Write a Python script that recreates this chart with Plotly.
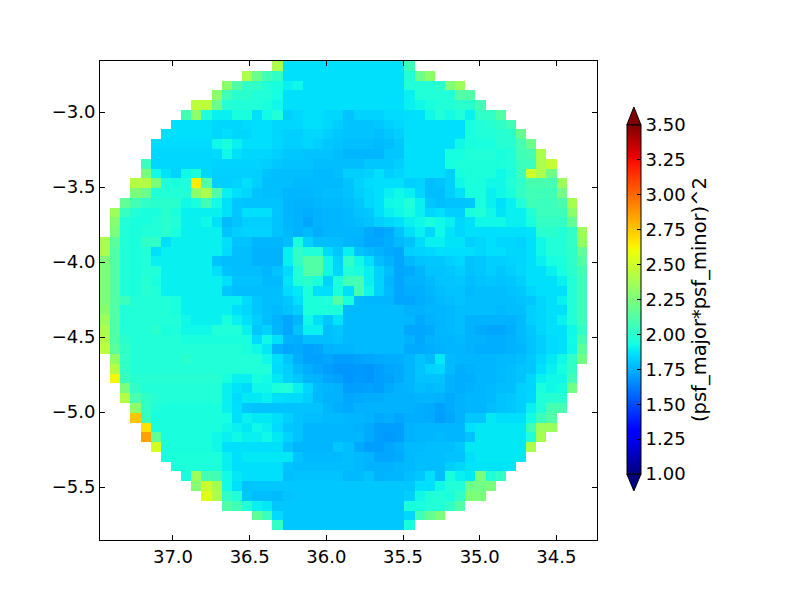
import plotly.graph_objects as go

# psf size per cell, in hundredths
# first_col = column where the row's data starts, everything else is blank
first_col = [17, 14, 12, 11, 9, 8, 7, 6, 5, 5, 4, 4, 3, 3, 2, 1, 1, 1,
             0, 0, 0, 0, 0, 0, 0, 0, 0, 0, 0, 0,
             1, 1, 1, 2, 2, 3, 3, 4, 4, 5, 6, 7, 8, 9, 10, 12, 15, 17]
rows = [
    [240, 186, 186, 186, 186, 186, 186, 186, 186, 186, 186, 186, 186, 207],
    [240, 220, 207, 202, 186, 186, 186, 186, 186, 186, 186, 186, 186, 186, 186, 186, 197, 220, 230],
    [230, 212, 202, 202, 197, 195, 190, 192, 186, 186, 186, 186, 186, 186, 186, 186, 186, 186, 197, 197, 197, 200, 227, 235],
    [230, 207, 200, 200, 197, 197, 194, 186, 186, 186, 186, 186, 186, 186, 186, 186, 186, 186, 186, 190, 197, 197, 197, 197, 212, 212],
    [245, 245, 220, 199, 197, 197, 197, 195, 192, 186, 186, 186, 186, 186, 186, 186, 186, 186, 186, 186, 186, 190, 192, 195, 197, 197, 200, 200, 207],
    [207, 230, 197, 190, 190, 195, 195, 186, 193, 197, 182, 184, 186, 186, 184, 184, 179, 183, 183, 183, 185, 185, 186, 186, 192, 197, 193, 197, 190, 202, 202, 212],
    [186, 186, 186, 186, 184, 184, 184, 185, 186, 186, 184, 184, 184, 186, 186, 184, 182, 179, 179, 179, 180, 182, 184, 186, 186, 186, 186, 186, 186, 195, 197, 199, 202, 207],
    [186, 186, 186, 186, 186, 184, 186, 184, 184, 186, 186, 184, 182, 182, 184, 184, 182, 180, 179, 179, 179, 178, 180, 182, 186, 186, 186, 186, 186, 186, 195, 197, 197, 199, 200, 218],
    [185, 185, 185, 185, 185, 185, 192, 195, 190, 186, 186, 186, 184, 182, 182, 184, 182, 180, 179, 178, 178, 178, 177, 178, 180, 186, 186, 186, 186, 186, 192, 195, 195, 195, 199, 199, 209, 220],
    [184, 184, 184, 184, 184, 184, 185, 192, 186, 184, 184, 184, 182, 180, 180, 179, 179, 179, 178, 176, 176, 176, 176, 180, 180, 186, 186, 186, 186, 194, 194, 197, 197, 197, 195, 197, 207, 209, 240],
    [205, 184, 184, 184, 184, 184, 184, 183, 183, 183, 183, 183, 182, 180, 179, 179, 179, 178, 178, 178, 178, 178, 180, 180, 180, 182, 186, 186, 186, 186, 194, 196, 196, 196, 196, 196, 197, 205, 205, 240, 247],
    [225, 193, 187, 183, 192, 195, 184, 182, 182, 182, 182, 182, 179, 178, 178, 178, 178, 177, 177, 178, 182, 182, 183, 186, 182, 184, 186, 186, 186, 186, 182, 194, 196, 196, 196, 192, 195, 205, 250, 240, 220],
    [242, 242, 225, 197, 195, 197, 265, 212, 182, 182, 183, 186, 182, 178, 178, 178, 177, 177, 177, 177, 177, 179, 183, 185, 186, 186, 186, 182, 183, 178, 179, 182, 192, 196, 195, 192, 192, 197, 202, 209, 209, 209, 235],
    [225, 220, 197, 197, 197, 197, 230, 240, 212, 190, 186, 184, 179, 178, 178, 176, 176, 176, 177, 178, 178, 179, 182, 184, 186, 190, 192, 190, 184, 178, 178, 182, 186, 195, 195, 190, 192, 195, 203, 207, 207, 207, 222],
    [217, 207, 202, 200, 200, 200, 192, 195, 207, 193, 186, 180, 179, 179, 179, 179, 176, 175, 175, 176, 177, 177, 178, 180, 184, 186, 192, 193, 197, 190, 180, 178, 179, 179, 180, 195, 190, 186, 190, 197, 207, 205, 205, 209, 238],
    [235, 204, 197, 195, 195, 200, 195, 190, 190, 190, 190, 186, 180, 186, 186, 186, 179, 176, 175, 174, 175, 176, 176, 177, 179, 180, 186, 190, 192, 195, 190, 184, 186, 182, 182, 195, 197, 192, 187, 190, 190, 197, 205, 205, 205, 230],
    [228, 197, 195, 195, 197, 200, 197, 190, 190, 192, 186, 177, 179, 182, 182, 182, 179, 176, 175, 172, 175, 176, 176, 177, 178, 179, 182, 184, 186, 190, 192, 195, 192, 190, 184, 186, 192, 192, 192, 190, 190, 195, 203, 203, 203, 217],
    [225, 197, 195, 197, 197, 200, 195, 190, 190, 190, 190, 179, 182, 183, 183, 183, 179, 177, 175, 177, 174, 176, 176, 176, 176, 173, 171, 173, 179, 186, 190, 184, 192, 187, 184, 186, 186, 186, 186, 186, 186, 187, 200, 200, 197, 202, 235],
    [240, 215, 197, 195, 202, 202, 186, 190, 190, 190, 190, 190, 186, 179, 179, 176, 176, 176, 178, 195, 183, 178, 178, 178, 176, 175, 172, 172, 174, 177, 179, 185, 190, 190, 187, 187, 182, 184, 186, 184, 184, 183, 186, 192, 197, 197, 202, 232],
    [240, 212, 197, 195, 197, 186, 190, 190, 190, 190, 190, 190, 185, 178, 178, 175, 175, 175, 190, 202, 197, 197, 185, 180, 190, 179, 177, 175, 173, 172, 182, 183, 184, 186, 186, 186, 186, 184, 186, 186, 184, 184, 186, 192, 197, 197, 201, 217],
    [225, 212, 197, 195, 197, 190, 190, 190, 190, 190, 190, 179, 178, 178, 178, 175, 175, 175, 190, 202, 212, 212, 192, 183, 202, 192, 186, 178, 175, 172, 177, 179, 180, 180, 182, 184, 179, 180, 182, 182, 183, 184, 186, 190, 194, 196, 201, 212],
    [225, 212, 197, 195, 197, 197, 190, 190, 190, 190, 190, 186, 179, 178, 178, 178, 176, 179, 185, 197, 212, 212, 192, 184, 197, 195, 190, 183, 178, 172, 173, 176, 179, 179, 180, 182, 179, 180, 182, 180, 182, 184, 186, 186, 190, 194, 200, 207],
    [225, 212, 197, 195, 199, 195, 190, 190, 190, 190, 190, 190, 186, 179, 179, 179, 177, 177, 187, 197, 200, 196, 183, 196, 207, 209, 190, 183, 176, 172, 175, 175, 177, 179, 179, 180, 178, 179, 180, 179, 180, 182, 186, 186, 186, 190, 197, 205],
    [225, 212, 197, 195, 199, 197, 190, 190, 190, 190, 190, 190, 180, 178, 178, 178, 178, 178, 185, 188, 196, 186, 186, 195, 186, 209, 192, 183, 177, 172, 174, 174, 176, 178, 179, 179, 177, 178, 178, 178, 179, 180, 184, 186, 186, 186, 197, 205],
    [225, 212, 205, 197, 197, 197, 197, 195, 190, 190, 190, 190, 190, 190, 185, 180, 178, 178, 180, 186, 196, 196, 197, 212, 195, 177, 176, 176, 176, 172, 172, 174, 175, 177, 178, 179, 178, 178, 178, 178, 178, 179, 180, 184, 186, 190, 197, 205],
    [228, 212, 197, 197, 197, 197, 197, 195, 190, 190, 190, 190, 190, 186, 184, 180, 178, 177, 179, 182, 196, 196, 196, 196, 177, 177, 177, 177, 177, 177, 175, 175, 176, 176, 177, 178, 178, 178, 178, 177, 178, 178, 182, 184, 186, 186, 197, 205],
    [235, 212, 197, 197, 197, 197, 197, 197, 192, 190, 190, 190, 195, 190, 186, 182, 178, 175, 172, 176, 192, 186, 180, 187, 177, 177, 177, 177, 177, 177, 176, 173, 175, 176, 177, 178, 175, 175, 175, 175, 175, 177, 182, 184, 186, 190, 197, 205],
    [240, 212, 197, 197, 197, 200, 195, 196, 192, 192, 192, 197, 197, 197, 190, 180, 183, 176, 172, 179, 190, 190, 178, 180, 177, 177, 177, 177, 177, 177, 172, 172, 173, 176, 177, 178, 175, 173, 172, 172, 174, 177, 180, 184, 186, 186, 192, 202],
    [242, 212, 200, 197, 197, 197, 197, 197, 195, 195, 195, 195, 195, 195, 195, 185, 192, 186, 175, 174, 178, 178, 178, 179, 177, 177, 177, 177, 177, 177, 175, 172, 175, 176, 176, 177, 175, 175, 174, 174, 175, 177, 179, 182, 185, 186, 193, 209],
    [245, 215, 202, 197, 197, 197, 197, 197, 197, 197, 197, 197, 197, 197, 195, 192, 188, 175, 172, 173, 171, 172, 175, 176, 176, 177, 177, 177, 177, 177, 173, 173, 174, 175, 176, 176, 175, 174, 174, 174, 175, 176, 179, 182, 185, 186, 192, 215],
    [232, 202, 197, 197, 197, 197, 197, 200, 197, 197, 197, 197, 197, 197, 197, 192, 186, 180, 174, 171, 171, 172, 170, 170, 171, 172, 173, 174, 174, 176, 179, 177, 188, 177, 176, 176, 176, 176, 177, 177, 178, 180, 184, 188, 192, 202, 222],
    [243, 202, 197, 197, 197, 197, 197, 197, 197, 197, 197, 197, 197, 197, 197, 197, 185, 182, 177, 174, 172, 170, 168, 168, 169, 168, 170, 172, 173, 176, 179, 183, 184, 177, 174, 175, 176, 176, 177, 178, 179, 180, 186, 190, 194, 203],
    [262, 204, 199, 199, 199, 199, 199, 199, 199, 199, 199, 195, 190, 190, 195, 193, 188, 183, 180, 176, 175, 172, 171, 168, 169, 168, 170, 171, 173, 176, 179, 179, 179, 175, 174, 174, 176, 176, 177, 178, 179, 184, 190, 192, 192, 207],
    [225, 202, 197, 197, 197, 197, 197, 197, 197, 197, 190, 187, 185, 192, 192, 196, 197, 190, 184, 177, 176, 175, 170, 170, 171, 170, 173, 175, 176, 178, 177, 178, 175, 174, 175, 176, 177, 178, 178, 182, 183, 195, 192, 194, 222],
    [242, 210, 202, 199, 197, 197, 197, 197, 197, 197, 190, 185, 188, 188, 190, 186, 185, 185, 182, 177, 175, 175, 172, 173, 174, 174, 175, 175, 175, 176, 176, 175, 173, 175, 176, 176, 177, 179, 180, 182, 184, 197, 199, 199],
    [230, 202, 197, 195, 195, 195, 195, 195, 195, 190, 186, 180, 179, 179, 179, 179, 179, 179, 179, 176, 174, 173, 175, 175, 175, 175, 175, 175, 174, 173, 171, 173, 175, 176, 176, 178, 179, 180, 182, 190, 197, 209, 209],
    [275, 204, 195, 195, 195, 195, 195, 195, 195, 194, 186, 190, 188, 188, 186, 182, 179, 178, 178, 177, 177, 176, 176, 175, 173, 174, 172, 174, 174, 173, 170, 172, 175, 180, 180, 188, 186, 186, 186, 193, 205, 212],
    [268, 195, 195, 195, 195, 195, 195, 195, 192, 190, 188, 192, 190, 185, 180, 179, 176, 176, 176, 176, 176, 175, 173, 170, 170, 170, 175, 176, 176, 176, 176, 176, 186, 188, 188, 188, 188, 188, 207, 235, 235],
    [285, 217, 195, 195, 195, 195, 195, 192, 190, 192, 190, 190, 192, 188, 183, 179, 176, 176, 176, 176, 176, 176, 173, 170, 169, 170, 175, 176, 176, 177, 176, 176, 179, 188, 188, 188, 188, 188, 197, 238],
    [252, 195, 195, 195, 195, 195, 192, 186, 186, 186, 186, 186, 186, 179, 176, 176, 176, 176, 180, 178, 173, 170, 170, 172, 174, 177, 177, 178, 178, 178, 180, 188, 188, 188, 188, 188, 188, 240],
    [196, 196, 196, 196, 196, 196, 190, 186, 188, 188, 188, 188, 188, 179, 177, 177, 177, 177, 178, 177, 176, 172, 172, 173, 177, 178, 178, 178, 179, 179, 186, 188, 188, 188, 188, 188],
    [196, 196, 196, 196, 196, 190, 186, 186, 186, 186, 186, 179, 178, 178, 178, 178, 178, 178, 177, 175, 175, 175, 176, 177, 178, 178, 178, 182, 184, 187, 187, 187, 187, 187],
    [195, 235, 209, 207, 193, 188, 186, 186, 186, 186, 178, 179, 179, 179, 179, 179, 177, 177, 179, 175, 176, 176, 178, 180, 186, 178, 195, 190, 188, 225, 197, 202],
    [228, 248, 238, 193, 186, 179, 180, 180, 180, 180, 180, 180, 180, 180, 180, 180, 180, 180, 180, 180, 180, 180, 186, 186, 192, 197, 197, 220, 222, 225],
    [255, 240, 202, 197, 180, 178, 178, 177, 179, 180, 180, 180, 180, 180, 180, 180, 180, 180, 180, 180, 182, 192, 197, 197, 195, 202, 225, 225],
    [212, 207, 197, 190, 188, 180, 180, 180, 180, 180, 180, 180, 180, 180, 180, 180, 180, 180, 195, 195, 197, 197, 202, 212],
    [215, 205, 185, 180, 180, 180, 180, 180, 180, 180, 180, 180, 180, 180, 180, 184, 207, 218, 225],
    [202, 180, 180, 180, 180, 180, 180, 180, 180, 180, 180, 180, 180, 195],
]
n_cols = 48

colorbar_ticks = [1.0, 1.25, 1.5, 1.75, 2.0, 2.25, 2.5, 2.75, 3.0, 3.25, 3.5]
colorbar_title = "(psf_major*psf_minor)^2"

# matplotlib's jet, plotly's own "Jet" has different stops
jet = [
    [0.0, "rgb(0,0,128)"], [0.11, "rgb(0,0,255)"], [0.125, "rgb(0,0,255)"],
    [0.34, "rgb(0,219,255)"], [0.35, "rgb(0,230,247)"], [0.375, "rgb(21,255,226)"],
    [0.64, "rgb(238,255,8)"], [0.65, "rgb(247,246,0)"], [0.66, "rgb(255,236,0)"],
    [0.89, "rgb(255,19,0)"], [0.91, "rgb(232,0,0)"], [1.0, "rgb(128,0,0)"],
]

z = []
for start, vals in zip(first_col, rows):
    fila = [None] * start + [v / 100 for v in vals]
    z.append(fila + [None] * (n_cols - len(fila)))

font = dict(family="DejaVu Sans", size=18, color="black")

fig = go.Figure(go.Heatmap(
    z=z,
    x0=37.443, dx=-0.0661,
    y0=-2.693, dy=-0.0652,
    zmin=1.0, zmax=3.5,
    colorscale=jet,
    hoverongaps=False,
    colorbar=dict(
        lenmode="pixels", len=349,
        thicknessmode="pixels", thickness=14,
        x=1.06, xanchor="left", xpad=0,
        y=0.502, yanchor="middle", ypad=0,
        outlinecolor="black", outlinewidth=1,
        tickvals=colorbar_ticks, tickformat=".2f", tickprefix="\u00a0\u200a",
        ticks="inside", ticklen=4, tickcolor="black",
        tickfont=font,
        title=dict(text=colorbar_title, side="right",
                   font=dict(family="DejaVu Sans", size=19.5, color="black")),
    ),
))

axis_style = dict(
    showline=True, linecolor="black", linewidth=1, mirror="allticks",
    ticks="inside", ticklen=5, tickcolor="black",
    showgrid=False, zeroline=False,
    dtick=0.5, tickformat=".1f", tickfont=font,
)
fig.update_xaxes(range=[37.476, 34.235], **axis_style)
fig.update_yaxes(range=[-5.853, -2.66], tick0=-3.0, **axis_style)

# the extend triangles of the colorbar, plotly has none
fig.add_shape(type="path", xref="paper", yref="paper", fillcolor="rgb(128,0,0)",
              line=dict(color="black", width=1), path="M 1.06 0.8664 L 1.0885 0.8664 L 1.0742 0.9040 Z")
fig.add_shape(type="path", xref="paper", yref="paper", fillcolor="rgb(0,0,128)",
              line=dict(color="black", width=1), path="M 1.06 0.1378 L 1.0885 0.1378 L 1.0742 0.1023 Z")

# page has an 8px body margin, so figure is 16px smaller than the window
fig.update_layout(
    width=784, height=584,
    margin=dict(l=92, r=195, t=53, b=52),
    paper_bgcolor="white", plot_bgcolor="white",
    font=font,
)

fig.write_html("out.html")
